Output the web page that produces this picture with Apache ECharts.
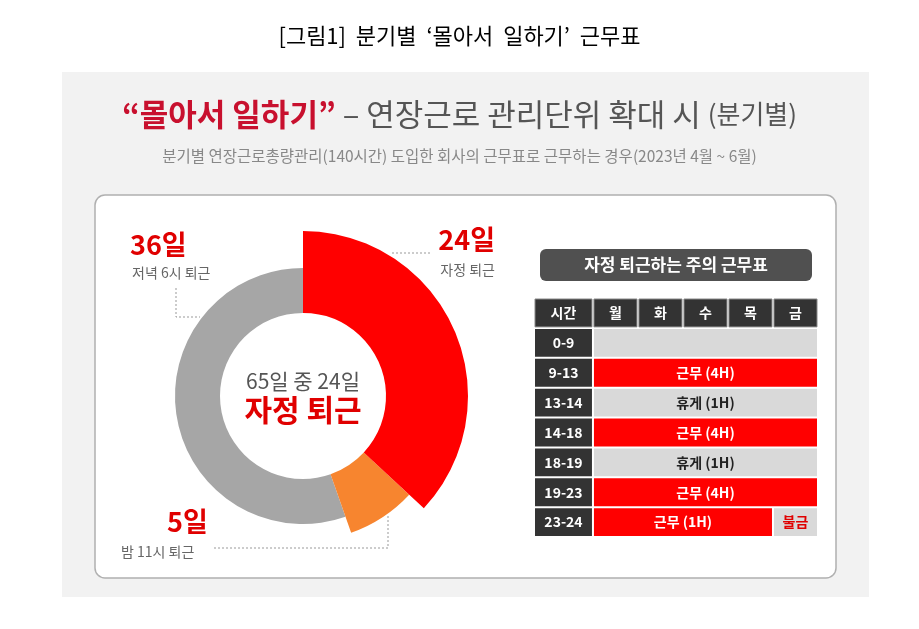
<!DOCTYPE html><html><head><meta charset="utf-8">
<script src="https://cdn.jsdelivr.net/npm/echarts@6/dist/echarts.min.js"></script>
<style>html,body{margin:0;padding:0;background:#fff}#c{width:919px;height:629px}</style></head><body><div id="c"></div>
<script>
const sliceNames = ['자정 퇴근','밤 11시 퇴근','저녁 6시 퇴근'];
const sliceDays = [24, 5, 36];
const sliceColors = ['#ff0000','#f7852f','#a6a6a6'];
const days = ['월','화','수','목','금'];
const timeSlots = ['0-9','9-13','13-14','14-18','18-19','19-23','23-24'];
// [row, startDay, endDay, label, kind]
const blocks = [
 [0,0,5,'','rest'],[1,0,5,'근무 (4H)','work'],[2,0,5,'휴게 (1H)','rest'],[3,0,5,'근무 (4H)','work'],
 [4,0,5,'휴게 (1H)','rest'],[5,0,5,'근무 (4H)','work'],[6,0,4,'근무 (1H)','work'],[6,4,5,'불금','fri']
];
const F = '"Noto Sans CJK KR", sans-serif';
const chart = echarts.init(document.getElementById('c'));
const tableData = [];
tableData.push([-1, -1.31, 0, '시간', 'head']);
days.forEach((d,i)=>tableData.push([-1, i, i+1, d, 'head']));
timeSlots.forEach((t,i)=>tableData.push([i, -1.31, 0, t, 'time']));
blocks.forEach(b=>tableData.push([b[0], b[1], b[2], b[3], b[4]]));
const fills = {head:'#333333', time:'#333333', work:'#ff0000', rest:'#d9d9d9', fri:'#d9d9d9'};
const txt = {head:'#ffffff', time:'#ffffff', work:'#ffffff', rest:'#222222', fri:'#e00000'};
chart.setOption({
 animation:false,
 title:[
  {text:"[그림1]  분기별  ‘몰아서  일하기’  근무표", left:'center', top:20, textStyle:{fontFamily:F,fontSize:22,fontWeight:'normal',color:'#000'}}
 ],
 graphic:[
  {type:'rect', z:-10, shape:{x:62,y:72,width:807,height:525}, style:{fill:'#f2f2f2'}},
  {type:'rect', z:-9, shape:{x:95,y:195,width:741,height:383,r:10}, style:{fill:'#fff',stroke:'#b0b0b0',lineWidth:1.5}},
  {type:'text', left:'center', top:99, style:{rich:{
     r:{fontFamily:F,fontSize:31,fontWeight:'bold',fill:'#c8102e'},
     g:{fontFamily:F,fontSize:31,fill:'#555'},
     s:{fontFamily:F,fontSize:26,fill:'#555'}},
     text:'{r|“몰아서 일하기”}{g| – 연장근로 관리단위 확대 시 }{s|(분기별)}'}},
  {type:'text', left:'center', top:148, style:{text:'분기별 연장근로총량관리(140시간) 도입한 회사의 근무표로 근무하는 경우(2023년 4월 ~ 6월)', fontFamily:F, fontSize:15.5, fill:'#888'}},
  {type:'rect', shape:{x:540,y:249,width:272,height:32,r:6}, style:{fill:'#505050'}},
  {type:'text', x:676, y:265, style:{text:'자정 퇴근하는 주의 근무표', fontFamily:F, fontSize:17, fontWeight:'bold', fill:'#fff', align:'center', verticalAlign:'middle'}},
  {type:'text', x:303, y:381, style:{text:'65일 중 24일', fontFamily:F, fontSize:21, fill:'#555', align:'center', verticalAlign:'middle'}},
  {type:'text', x:303, y:410, style:{text:'자정 퇴근', fontFamily:F, fontSize:30, fontWeight:'bold', fill:'#e00000', align:'center', verticalAlign:'middle'}},
  {type:'text', x:495, y:240, style:{text:sliceDays[0]+'일', fontFamily:F, fontSize:27, fontWeight:'bold', fill:'#e00000', align:'right', verticalAlign:'middle'}},
  {type:'text', x:495, y:270, style:{text:sliceNames[0], fontFamily:F, fontSize:14, fill:'#666', align:'right', verticalAlign:'middle'}},
  {type:'text', x:130, y:245, style:{text:sliceDays[2]+'일', fontFamily:F, fontSize:27, fontWeight:'bold', fill:'#e00000', verticalAlign:'middle'}},
  {type:'text', x:132, y:273, style:{text:sliceNames[2], fontFamily:F, fontSize:14, fill:'#666', verticalAlign:'middle'}},
  {type:'text', x:167, y:522, style:{text:sliceDays[1]+'일', fontFamily:F, fontSize:27, fontWeight:'bold', fill:'#e00000', verticalAlign:'middle'}},
  {type:'text', x:121, y:552, style:{text:sliceNames[1], fontFamily:F, fontSize:14, fill:'#666', verticalAlign:'middle'}},
  {type:'polyline', shape:{points:[[392,253],[430,253]]}, style:{stroke:'#999',lineDash:[2,2],lineWidth:1}},
  {type:'polyline', shape:{points:[[176,288],[176,317],[200,317]]}, style:{stroke:'#999',lineDash:[2,2],lineWidth:1}},
  {type:'polyline', shape:{points:[[214,548],[388,548],[388,515]]}, style:{stroke:'#999',lineDash:[2,2],lineWidth:1}}
 ],
 grid:{left:534, right:101, top:298, bottom:92},
 xAxis:{type:'value', min:-1.31, max:5, show:false},
 yAxis:{type:'value', min:-1, max:7, inverse:true, show:false},
 series:[
  {type:'pie', center:[303,396], radius:[83,128], startAngle:90, clockwise:true, silent:true, label:{show:false},
   data:sliceDays.map((v,i)=>({name:sliceNames[i], value:v, itemStyle:{color: i===2?sliceColors[2]:'transparent'}}))},
  {type:'pie', center:[303,396], radius:[83,145], startAngle:90, clockwise:true, silent:true, label:{show:false},
   data:sliceDays.map((v,i)=>({name:sliceNames[i], value:v, itemStyle:{color: i===1?sliceColors[1]:'transparent'}}))},
  {type:'pie', center:[303,396], radius:[83,165], startAngle:90, clockwise:true, silent:true, label:{show:false},
   data:sliceDays.map((v,i)=>({name:sliceNames[i], value:v, itemStyle:{color: i===0?sliceColors[0]:'transparent'}}))},
  {type:'custom', silent:true, data:tableData,
   renderItem:(p,api)=>{
     const d = tableData[p.dataIndex];
     const a = api.coord([d[1], d[0]]), b = api.coord([d[2], d[0]+1]);
     const k = d[4];
     return {type:'group', children:[
       {type:'rect', shape:{x:a[0]+1, y:a[1]+1, width:b[0]-a[0]-2, height:b[1]-a[1]-2},
        style:{fill:fills[k], stroke: k==='head'?'#888':null, lineWidth:k==='head'?1:0}},
       {type:'text', style:{text:d[3], x:(a[0]+b[0])/2, y:(a[1]+b[1])/2, align:'center', verticalAlign:'middle',
        fontFamily:F, fontSize:14, fontWeight:'bold', fill:txt[k]}}
     ]};
   }}
 ]
});
</script></body></html>
